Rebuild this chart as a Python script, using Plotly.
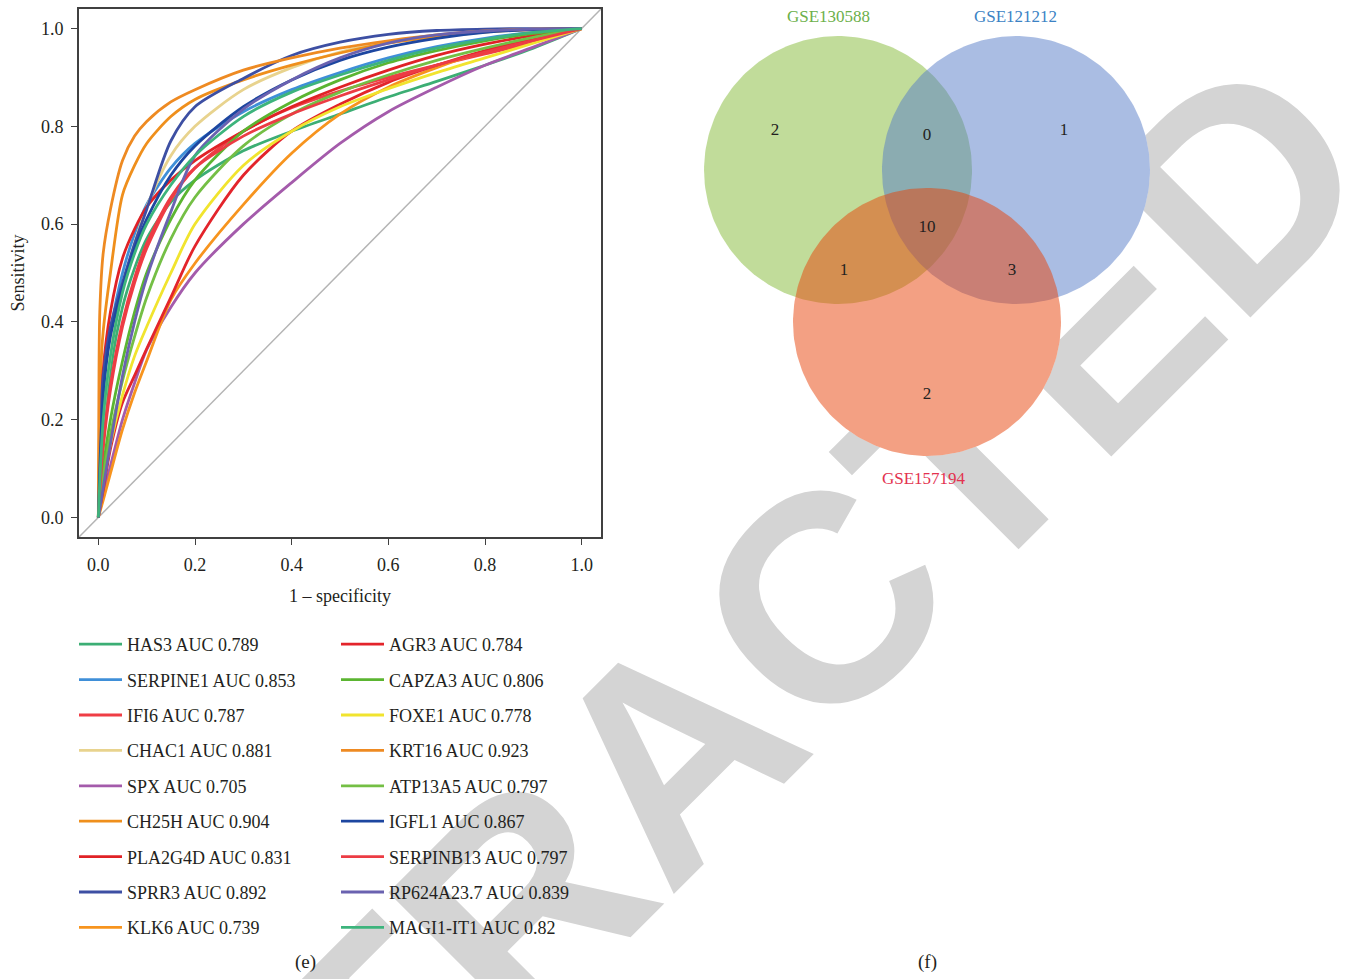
import numpy as np
import plotly.graph_objects as go

W, H = 1360, 979
SERIF = "Liberation Serif, Times New Roman, serif"
TXT = "#231f20"

# ---------------- ROC data (1 - specificity, sensitivity) ----------------
genes = ["HAS3", "SERPINE1", "IFI6", "CHAC1", "SPX", "CH25H", "PLA2G4D", "SPRR3", "KLK6",
         "AGR3", "CAPZA3", "FOXE1", "KRT16", "ATP13A5", "IGFL1", "SERPINB13", "RP624A23.7", "MAGI1-IT1"]
auc = [0.789, 0.853, 0.787, 0.881, 0.705, 0.904, 0.831, 0.892, 0.739,
       0.784, 0.806, 0.778, 0.923, 0.797, 0.867, 0.797, 0.839, 0.82]
colors = ["#3cae74", "#3f8fd8", "#ef3d45", "#e8d38e", "#a45bab", "#ef8f1c", "#e02226", "#3d4fa3", "#f7941e",
          "#e3242b", "#5bb531", "#f1e42e", "#ee8a22", "#74bf45", "#1d46a0", "#ec3c44", "#6a62b0", "#3db47c"]

# shared false-positive-rate grid
fpr_grid = [0, 0.01, 0.025, 0.05, 0.075, 0.1, 0.15, 0.2, 0.3, 0.4, 0.5, 0.6, 0.7, 0.8, 0.9, 1.0]

has3_tpr = [0, 0.17, 0.30, 0.43, 0.51, 0.57, 0.645, 0.69, 0.75, 0.79, 0.825, 0.86, 0.892, 0.925, 0.96, 1]
serpine1_tpr = [0, 0.26, 0.38, 0.50, 0.58, 0.64, 0.715, 0.765, 0.83, 0.875, 0.91, 0.94, 0.963, 0.98, 0.992, 1]
ifi6_tpr = [0, 0.14, 0.26, 0.39, 0.48, 0.55, 0.65, 0.715, 0.79, 0.838, 0.872, 0.90, 0.925, 0.948, 0.972, 1]
chac1_tpr = [0, 0.20, 0.33, 0.47, 0.56, 0.635, 0.74, 0.80, 0.875, 0.92, 0.952, 0.972, 0.985, 0.994, 0.998, 1]
spx_tpr = [0, 0.045, 0.105, 0.20, 0.275, 0.343, 0.43, 0.50, 0.60, 0.685, 0.765, 0.83, 0.88, 0.925, 0.962, 1]
pla2g4d_tpr = [0, 0.30, 0.42, 0.53, 0.59, 0.635, 0.69, 0.73, 0.79, 0.84, 0.88, 0.915, 0.945, 0.968, 0.986, 1]
sprr3_tpr = [0, 0.29, 0.39, 0.48, 0.56, 0.63, 0.77, 0.84, 0.898, 0.945, 0.972, 0.988, 0.996, 0.999, 1.0, 1]
klk6_tpr = [0, 0.035, 0.09, 0.18, 0.255, 0.32, 0.445, 0.52, 0.64, 0.745, 0.825, 0.88, 0.92, 0.953, 0.978, 1]
agr3_tpr = [0, 0.055, 0.14, 0.235, 0.29, 0.345, 0.45, 0.555, 0.70, 0.79, 0.845, 0.89, 0.925, 0.955, 0.98, 1]
capza3_tpr = [0, 0.10, 0.20, 0.32, 0.42, 0.50, 0.61, 0.69, 0.79, 0.85, 0.895, 0.93, 0.955, 0.975, 0.99, 1]
foxe1_tpr = [0, 0.07, 0.15, 0.25, 0.33, 0.39, 0.50, 0.60, 0.72, 0.79, 0.84, 0.877, 0.91, 0.94, 0.97, 1]
atp13a5_tpr = [0, 0.08, 0.17, 0.28, 0.37, 0.45, 0.57, 0.655, 0.76, 0.825, 0.87, 0.905, 0.935, 0.96, 0.982, 1]
igfl1_tpr = [0, 0.25, 0.37, 0.47, 0.55, 0.61, 0.70, 0.76, 0.84, 0.895, 0.935, 0.962, 0.98, 0.992, 0.998, 1]
serpinb13_tpr = [0, 0.15, 0.27, 0.40, 0.49, 0.56, 0.655, 0.715, 0.78, 0.825, 0.862, 0.895, 0.925, 0.952, 0.976, 1]
rp624a23_tpr = [0, 0.06, 0.15, 0.29, 0.40, 0.49, 0.625, 0.74, 0.835, 0.895, 0.94, 0.97, 0.987, 0.995, 0.999, 1]
magi1_tpr = [0, 0.20, 0.33, 0.46, 0.54, 0.60, 0.68, 0.74, 0.82, 0.87, 0.905, 0.935, 0.96, 0.978, 0.992, 1]

# the two steepest curves are read on a finer grid near the origin
krt16_fpr = [0, 0.001, 0.003, 0.01, 0.025, 0.05, 0.075, 0.1, 0.15, 0.2, 0.3, 0.4, 0.5, 0.6, 0.7, 0.8, 0.9, 1.0]
krt16_tpr = [0, 0.22, 0.42, 0.54, 0.63, 0.73, 0.78, 0.81, 0.85, 0.875, 0.915, 0.94, 0.96, 0.975, 0.987, 0.995, 0.999, 1]
ch25h_fpr = [0, 0.002, 0.005, 0.01, 0.025, 0.05, 0.075, 0.1, 0.15, 0.2, 0.3, 0.4, 0.5, 0.6, 0.7, 0.8, 0.9, 1.0]
ch25h_tpr = [0, 0.15, 0.30, 0.38, 0.50, 0.66, 0.72, 0.765, 0.82, 0.855, 0.895, 0.925, 0.95, 0.97, 0.983, 0.993, 0.998, 1]

curves = [
    (fpr_grid, has3_tpr), (fpr_grid, serpine1_tpr), (fpr_grid, ifi6_tpr),
    (fpr_grid, chac1_tpr), (fpr_grid, spx_tpr), (ch25h_fpr, ch25h_tpr),
    (fpr_grid, pla2g4d_tpr), (fpr_grid, sprr3_tpr), (fpr_grid, klk6_tpr),
    (fpr_grid, agr3_tpr), (fpr_grid, capza3_tpr), (fpr_grid, foxe1_tpr),
    (krt16_fpr, krt16_tpr), (fpr_grid, atp13a5_tpr), (fpr_grid, igfl1_tpr),
    (fpr_grid, serpinb13_tpr), (fpr_grid, rp624a23_tpr), (fpr_grid, magi1_tpr),
]

roc_ticks = [0.0, 0.2, 0.4, 0.6, 0.8, 1.0]
roc_range = [-0.04, 1.04]

# ---------------- Venn data ----------------
venn_sets = ["GSE130588", "GSE121212", "GSE157194"]
venn_set_colors = ["#6cb04a", "#3b82c4", "#e3324f"]
# regions: only A, A&B, only B, A&B&C, A&C, B&C, only C
venn_counts = [2, 0, 1, 10, 1, 3, 2]


def px_x(x):
    return x / W


def px_y(y):
    return 1 - y / H


fig = go.Figure()

# ---------------- watermark (sits beneath every trace) ----------------
wm_cx, wm_cy = 652, 732
fig.add_shape(
    type="rect", xref="paper", yref="paper",
    x0=px_x(wm_cx - 2), x1=px_x(wm_cx + 2), y0=px_y(wm_cy + 2), y1=px_y(wm_cy - 2),
    line=dict(width=0), fillcolor="rgba(0,0,0,0)", layer="below",
    label=dict(text="<b>RETRACTED</b>", textangle=-45, textposition="middle center",
               font=dict(family="Liberation Sans, Arial, sans-serif", size=295, color="#d4d4d4")),
)

# ---------------- ROC panel ----------------
fig.add_trace(go.Scatter(
    x=roc_range, y=roc_range, mode="lines", line=dict(color="#b4b4b4", width=1.5),
    showlegend=False, hoverinfo="skip", xaxis="x", yaxis="y"))

for i, (g, a, c, (fx, ty)) in enumerate(zip(genes, auc, colors, curves)):
    fig.add_trace(go.Scatter(
        x=fx, y=ty, mode="lines", name=f"{g} AUC {a:g}",
        line=dict(color=c, width=2.8, shape="spline", smoothing=0.8),
        legend="legend" if i < 9 else "legend2", legendgroup=g,
        xaxis="x", yaxis="y"))

axis_common = dict(
    range=roc_range, tickvals=roc_ticks, ticktext=[f"{t:.1f}" for t in roc_ticks],
    showgrid=False, zeroline=False, showline=True, mirror=True,
    linecolor="#404040", linewidth=1.8, ticks="outside", ticklen=6, tickwidth=1.3,
    tickcolor="#404040", tickfont=dict(family=SERIF, size=18, color=TXT),
    ticklabelstandoff=4,
)

fig.update_layout(
    xaxis=dict(domain=[px_x(79), px_x(601)], anchor="y",
               title=dict(text="1 \u2013 specificity", font=dict(family=SERIF, size=18, color=TXT), standoff=16),
               **axis_common),
    yaxis=dict(domain=[px_y(537), px_y(9)], anchor="x",
               title=dict(text="Sensitivity", font=dict(family=SERIF, size=18, color=TXT), standoff=12),
               **axis_common),
)

# ---------------- Venn panel ----------------
R = 134.0  # pixels per unit radius
venn_cx_px, venn_cy_px = 927, 170
centers = [(-0.664, 0.0), (0.664, 0.0), (0.0, -1.134)]
fills = ["rgba(131,185,53,0.5)", "rgba(85,123,199,0.5)", "rgba(231,65,7,0.5)"]
theta = np.linspace(0, 2 * np.pi, 241)

for cx, cy in centers:
    fig.add_trace(go.Scatter(
        x=cx + np.cos(theta), y=cy + np.sin(theta), mode="lines", fill="toself",
        fillcolor="white", line=dict(width=0), showlegend=False, hoverinfo="skip",
        xaxis="x2", yaxis="y2"))
for (cx, cy), fc in zip(centers, fills):
    fig.add_trace(go.Scatter(
        x=cx + np.cos(theta), y=cy + np.sin(theta), mode="lines", fill="toself",
        fillcolor=fc, line=dict(width=0), showlegend=False, hoverinfo="skip",
        xaxis="x2", yaxis="y2"))

count_pos = [(-1.134, 0.291), (0.0, 0.254), (1.022, 0.291), (0.0, -0.433),
             (-0.619, -0.754), (0.634, -0.754), (0.0, -1.679)]
fig.add_trace(go.Scatter(
    x=[p[0] for p in count_pos], y=[p[1] for p in count_pos], mode="text",
    text=[str(v) for v in venn_counts], textfont=dict(family=SERIF, size=17, color=TXT),
    showlegend=False, hoverinfo="skip", xaxis="x2", yaxis="y2"))

set_label_pos = [(-0.738, 1.142), (0.664, 1.142), (-0.02, -2.3)]
for name, col, (lx, ly) in zip(venn_sets, venn_set_colors, set_label_pos):
    fig.add_annotation(x=lx, y=ly, xref="x2", yref="y2", text=name, showarrow=False,
                       font=dict(family=SERIF, size=17, color=col))

fig.update_layout(
    xaxis2=dict(domain=[px_x(680), 1.0], anchor="y2", visible=False,
                range=[(680 - venn_cx_px) / R, (1360 - venn_cx_px) / R]),
    yaxis2=dict(domain=[px_y(500), 1.0], anchor="x2", visible=False,
                range=[(venn_cy_px - 500) / R, venn_cy_px / R]),
)

# ---------------- panel tags ----------------
for tag, xp in [("(e)", 305), ("(f)", 927)]:
    fig.add_annotation(x=px_x(xp), y=px_y(962), xref="paper", yref="paper", text=tag,
                       xanchor="center", yanchor="middle",
                       showarrow=False, font=dict(family=SERIF, size=19, color=TXT))

legend_common = dict(
    xanchor="left", yanchor="top", bgcolor="rgba(0,0,0,0)", borderwidth=0,
    font=dict(family=SERIF, size=18, color=TXT), tracegroupgap=9,
    traceorder="grouped", itemwidth=43,
)

fig.update_layout(
    width=W, height=H, autosize=False,
    margin=dict(l=0, r=0, t=0, b=0),
    paper_bgcolor="white", plot_bgcolor="white",
    legend=dict(x=px_x(74), y=px_y(626), **legend_common),
    legend2=dict(x=px_x(336), y=px_y(626), **legend_common),
)

fig.write_html("out.html")
